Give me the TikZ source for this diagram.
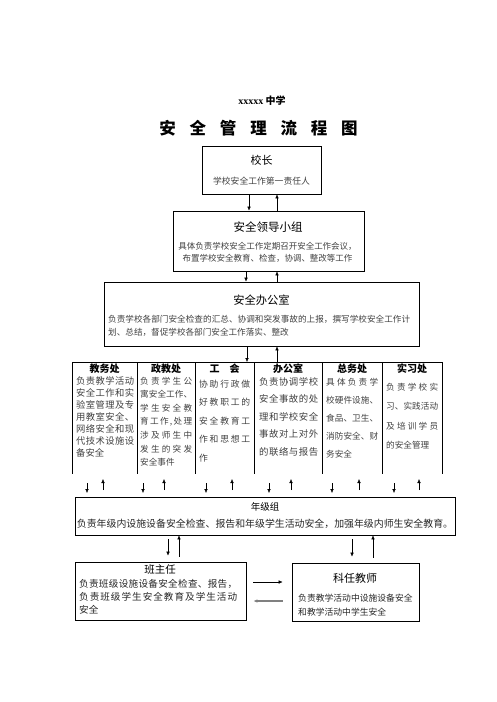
\documentclass[tikz,border=0pt]{standalone}
\usepackage{fontspec}
\setmainfont{Noto Sans CJK SC}
\newfontfamily\latfont{Liberation Serif}
\usetikzlibrary{arrows.meta}
\newcommand\fs[1]{\fontsize{#1}{#1}\selectfont}
\newcommand\fsl[2]{\fontsize{#1}{#2}\selectfont}
% reparte los caracteres de una linea a lo ancho dado
\def\sprd#1#2\sprdend{#1\if\relax\detokenize{#2}\relax\else\hskip0pt plus1fil\sprd#2\sprdend\fi}
\newcommand\jl[2]{\makebox[#1pt][s]{\sprd#2\sprdend}}

\tikzset{
  box/.style={draw, line width=0.8pt, inner sep=0pt},
  ttl/.style={inner sep=0pt, font=\fs{11}},
  txt/.style={inner sep=0pt, text=black!75},
  dtl/.style={inner sep=0pt, font=\fs{10}\bfseries},
  colt/.style={inner sep=0pt, anchor=north west, align=left, text=black!75},
  >={Latex[length=4pt,width=3.5pt]}
}

\begin{document}
\begin{tikzpicture}[x=1pt,y=-1pt]
\useasboundingbox (0,0) rectangle (496,702);

% Titulo
\node[inner sep=0pt, font=\fs{10}\bfseries] (school) at (262,101) {{\latfont xxxxx} 中学};
\node[inner sep=0pt, font=\fs{16.5}\bfseries] (title) at (258.5,128)
  {安\hspace{13.8pt}全\hspace{13.8pt}管\hspace{13.8pt}理\hspace{13.8pt}流\hspace{13.8pt}程\hspace{13.8pt}图};

% Cajas superiores
\node[box, minimum width=119, minimum height=48] (xz) at (261.5,170) {};
\node[ttl] (xzt) at (261.5,160) {校长};
\node[txt, font=\fs{8.8}] (xzb) at (261.5,181) {学校安全工作第一责任人};

\node[box, minimum width=191, minimum height=60] (ld) at (268.5,241) {};
\node[ttl, font=\fs{11.5}] (ldt) at (268,227) {安全领导小组};
\node[txt, font=\fsl{8.5}{12}, align=center] (ldb) at (267.5,252.5)
  {具体负责学校安全工作定期召开安全工作会议，\\布置学校安全教育、检查，协调、整改等工作};

\node[box, minimum width=315, minimum height=64] (bg) at (261.5,314) {};
\node[ttl, font=\fs{11.3}] (bgt) at (261.5,300) {安全办公室};
\node[txt, font=\fsl{8.6}{13}, align=left, anchor=west] (bgb) at (108,325.5)
  {\jl{302}{负责学校各部门安全检查的汇总、协调和突发事故的上报，撰写学校安全工作计}\\划、总结，督促学校各部门安全工作落实、整改};

% Fila de departamentos
\coordinate (row) at (257,362);
\draw[line width=0.9pt] (72,362) -- (442,362);
\foreach \x in {72,137,195,254,322,382,442}
  \draw[line width=0.9pt] (\x,362) -- (\x,474);

\foreach \n/\x/\t in {jw/104.5/教务处, zj/166/政教处, gh/224.5/工\hspace{10pt}会,
                      bgs/288/办公室, zw/352/总务处, sx/412/实习处}
  \node[dtl] (\n) at (\x,369) {\t};

\node[colt, font=\fsl{9.3}{12}] (jwb) at (76,376)
  {\jl{58}{负责教学活动}\\\jl{58}{安全工作和实}\\\jl{58}{验室管理及专}\\\jl{58}{用教室安全、}\\
   \jl{58}{网络安全和现}\\\jl{58}{代技术设施设}\\备安全};
\node[colt, font=\fsl{8.6}{13.6}] (zjb) at (140,376.5)
  {\jl{52}{负责学生公}\\\jl{52}{寓安全工作、}\\\jl{52}{学生安全教}\\\jl{52}{育工作,处理}\\
   \jl{52}{涉及师生中}\\\jl{52}{发生的突发}\\安全事件};
\node[colt, font=\fsl{8.8}{18.5}] (ghb) at (199,379.5)
  {\jl{51}{协助行政做}\\\jl{51}{好教职工的}\\\jl{51}{安全教育工}\\\jl{51}{作和思想工}\\作};
\node[colt, font=\fsl{9.4}{17.5}] (bgsb) at (259,377)
  {\jl{59}{负责协调学校}\\\jl{59}{安全事故的处}\\\jl{59}{理和学校安全}\\\jl{59}{事故对上对外}\\\jl{59}{的联络与报告}};
\node[colt, font=\fsl{8.6}{18}] (zwb) at (326,377.5)
  {\jl{52}{具体负责学}\\\jl{52}{校硬件设施、}\\\jl{52}{食品、卫生、}\\\jl{52}{消防安全、财}\\务安全};
\node[colt, font=\fsl{8.6}{19.5}] (sxb) at (386,382.5)
  {\jl{52}{负责学校实}\\\jl{52}{习、实践活动}\\\jl{52}{及培训学员}\\的安全管理};

% Flechas hacia el grupo de grado
\foreach \d/\u in {87/103,143/164,206/232,269/291,332/359,394/419} {
  \draw[->] (\d,483) -- (\d,493);
  \draw[->] (\u,490) -- (\u,479);
}

% Cajas inferiores
\node[box, minimum width=380, minimum height=38] (njz) at (265,516) {};
\node[txt, font=\fs{9.5}, text=black] (njzt) at (265,507) {年级组};
\node[txt, font=\fs{9.9}, text=black!85] (njzb) at (265,524)
  {负责年级内设施设备安全检查、报告和年级学生活动安全，加强年级内师生安全教育。};

\node[box, minimum width=171, minimum height=58] (bzr) at (160.5,591) {};
\node[ttl, font=\fs{10.5}] (bzrt) at (160,570) {班主任};
\node[colt, font=\fsl{9.6}{13}, text=black!85] (bzrb) at (79,579)
  {\jl{158}{负责班级设施设备安全检查、报告，}\\\jl{158}{负责班级学生安全教育及学生活动}\\安全};

\node[box, minimum width=127, minimum height=58] (krjs) at (355.5,592) {};
\node[ttl] (krjst) at (355,578) {科任教师};
\node[colt, font=\fsl{8.8}{14}, text=black!85] (krjsb) at (298,593.5)
  {负责教学活动中设施设备安全\\和教学活动中学生安全};

% Flechas entre cajas
\coordinate (a1) at ([xshift=-12.5pt]xz.south);
\coordinate (a2) at ([xshift=15.5pt]xz.south);
\draw[->] (a1) -- (a1 |- ld.north);
\draw[->] (a2 |- ld.north) -- (a2);

\coordinate (b1) at ([xshift=-22.5pt]ld.south);
\coordinate (b2) at ([xshift=8.5pt]ld.south);
\draw[->] (b1) -- (b1 |- bg.north);
\draw[->] (b2 |- bg.north) -- (b2);

\coordinate (c1) at ([xshift=-14.5pt]bg.south);
\coordinate (c2) at ([xshift=15.5pt]bg.south);
\draw[->] (c1) -- (c1 |- row);
\draw[->] (c2 |- row) -- (c2);

\coordinate (d1) at ([xshift=7.5pt]bzr.north);
\coordinate (d2) at ([xshift=18.5pt]bzr.north);
\draw[->, shorten <=4pt, shorten >=6pt] (d1 |- njz.south) -- (d1);
\draw[->, shorten <=5pt] (d2) -- (d2 |- njz.south);

\coordinate (e1) at ([xshift=-3.5pt]krjs.north);
\coordinate (e2) at ([xshift=17.5pt]krjs.north);
\draw[->, shorten <=4pt, shorten >=6pt] (e1 |- njz.south) -- (e1);
\draw[->, shorten <=5pt] (e2) -- (e2 |- njz.south);

\coordinate (r1) at ([yshift=9pt]bzr.east);
\coordinate (r2) at ([yshift=-10pt]bzr.east);
\draw[->, shorten <=7pt, shorten >=9pt] (r1) -- (r1 -| krjs.west);
\draw[->, gray, line width=1.6pt, shorten <=9pt, shorten >=7pt] (r2 -| krjs.west) -- (r2);

\end{tikzpicture}
\end{document}
